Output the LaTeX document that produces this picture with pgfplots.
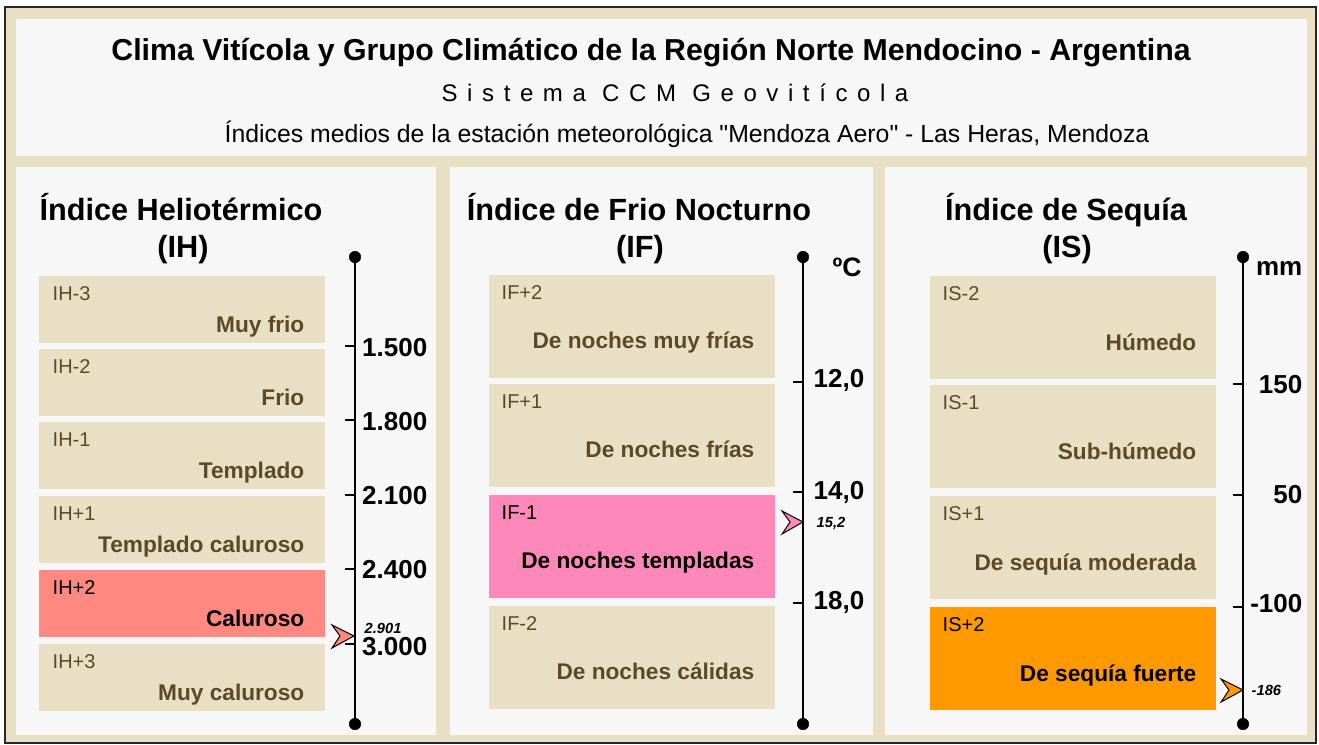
\documentclass[border=0pt]{standalone}
\usepackage{pgfplots}
\pgfplotsset{compat=1.18}
\usepackage{fontspec}
\setmainfont{Liberation Sans}
\newfontfamily\spaced[LetterSpace=40]{Liberation Sans}
\newfontfamily\rawfont[Ligatures=ResetAll]{Liberation Sans}

\definecolor{beige}{HTML}{E8DFC5}
\definecolor{panel}{HTML}{F7F7F7}
\definecolor{oliva}{HTML}{5A4A2A}
\definecolor{salmon}{HTML}{FF8880}
\definecolor{rosa}{HTML}{FF88BB}
\definecolor{naranja}{HTML}{FF9900}

\newcommand\fs[1]{\fontsize{#1pt}{#1pt}\selectfont}
% rectangle: x1 y1 x2 y2 colour (pixel coordinates, y down)
\newcommand\rect[5]{\addplot[fill=#5, draw=none] coordinates {(#1,#2) (#3,#2) (#3,#4) (#1,#4)};}
\newcommand\tick[2]{\addplot[black, line width=1.2pt] coordinates {(#1-10,#2) (#1,#2)};}

\begin{document}
\begin{tikzpicture}
\begin{axis}[x=0.75pt, y=0.75pt, y dir=reverse,
    xmin=0, xmax=1319, ymin=0, ymax=744,
    hide axis, clip=false]

% frame and panels
\rect{0}{0}{1319}{744}{white}
\addplot[fill=beige, draw=black!85, line width=1.2pt] coordinates {(5,7) (1316,7) (1316,743) (5,743)} -- cycle;
\rect{16}{19}{1307}{156}{panel}
\rect{16}{167}{436}{735}{panel}
\rect{450}{167}{873}{735}{panel}
\rect{885}{167}{1307}{735}{panel}

% headings
\node[anchor=base, font=\bfseries\fs{22.7}] at (651,60) {Clima Vitícola y Grupo Climático de la Región Norte Mendocino - Argentina};
\node[anchor=base, font=\spaced\fs{18}] at (675,101) {Sistema CCM Geovitícola};
\node[anchor=base, font=\rawfont\fs{18.6}] at (687,142) {Índices medios de la estación meteorológica "Mendoza Aero" - Las Heras, Mendoza};

% ---------- IH ----------
\node[anchor=base, font=\bfseries\fs{23}] at (181,220) {Índice Heliotérmico};
\node[anchor=base, font=\bfseries\fs{23}] at (183,257) {(IH)};
\rect{39}{276}{325}{343}{beige}
\rect{39}{349}{325}{416}{beige}
\rect{39}{422}{325}{489}{beige}
\rect{39}{496}{325}{563}{beige}
\rect{39}{570}{325}{637}{salmon}
\rect{39}{644}{325}{711}{beige}
\node[anchor=base west, text=oliva, font=\fs{15}] at (48,300) {IH-3};
\node[anchor=base west, text=oliva, font=\fs{15}] at (48,373) {IH-2};
\node[anchor=base west, text=oliva, font=\fs{15}] at (48,446) {IH-1};
\node[anchor=base west, text=oliva, font=\fs{15}] at (48,520) {IH+1};
\node[anchor=base west, text=black, font=\fs{15}] at (48,594) {IH+2};
\node[anchor=base west, text=oliva, font=\fs{15}] at (48,668) {IH+3};
\node[anchor=base east, text=oliva, font=\bfseries\fs{17}] at (309,332) {Muy frio};
\node[anchor=base east, text=oliva, font=\bfseries\fs{17}] at (309,405) {Frio};
\node[anchor=base east, text=oliva, font=\bfseries\fs{17}] at (309,478) {Templado};
\node[anchor=base east, text=oliva, font=\bfseries\fs{17}] at (309,552) {Templado caluroso};
\node[anchor=base east, text=black, font=\bfseries\fs{17}] at (309,626) {Caluroso};
\node[anchor=base east, text=oliva, font=\bfseries\fs{17}] at (309,700) {Muy caluroso};

\addplot[black, line width=1.5pt] coordinates {(355,257) (355,724)};
\addplot[only marks, mark=*, mark size=4.3pt, black] coordinates {(355,257) (355,724)};
\tick{355}{346}
\tick{355}{420}
\tick{355}{495}
\tick{355}{569}
\tick{355}{644}
\node[anchor=base east, font=\bfseries\fs{19.5}] at (432,356) {1.500};
\node[anchor=base east, font=\bfseries\fs{19.5}] at (432,430) {1.800};
\node[anchor=base east, font=\bfseries\fs{19.5}] at (432,504) {2.100};
\node[anchor=base east, font=\bfseries\fs{19.5}] at (432,578) {2.400};
\node[anchor=base east, font=\bfseries\fs{19.5}] at (432,655) {3.000};
\addplot[fill=salmon, draw=black, line width=0.75pt] coordinates {(332,625) (354,636) (332,648) (340,636)} -- cycle;
\node[anchor=base west, font=\bfseries\itshape\fs{11}] at (360,633) {2.901};

% ---------- IF ----------
\node[anchor=base, font=\bfseries\fs{23}] at (639,220) {Índice de Frio Nocturno};
\node[anchor=base, font=\bfseries\fs{23}] at (640,257) {(IF)};
\rect{489}{275}{775}{378}{beige}
\rect{489}{384}{775}{487}{beige}
\rect{489}{495}{775}{598}{rosa}
\rect{489}{606}{775}{709}{beige}
\node[anchor=base west, text=oliva, font=\fs{15}] at (497,299) {IF+2};
\node[anchor=base west, text=oliva, font=\fs{15}] at (497,408) {IF+1};
\node[anchor=base west, text=black, font=\fs{15}] at (497,519) {IF-1};
\node[anchor=base west, text=oliva, font=\fs{15}] at (497,630) {IF-2};
\node[anchor=base east, text=oliva, font=\bfseries\fs{17}] at (759,348) {De noches muy frías};
\node[anchor=base east, text=oliva, font=\bfseries\fs{17}] at (759,457) {De noches frías};
\node[anchor=base east, text=black, font=\bfseries\fs{17}] at (759,568) {De noches templadas};
\node[anchor=base east, text=oliva, font=\bfseries\fs{17}] at (759,679) {De noches cálidas};

\addplot[black, line width=1.5pt] coordinates {(803,257) (803,724)};
\addplot[only marks, mark=*, mark size=4.3pt, black] coordinates {(803,257) (803,724)};
\tick{803}{382}
\tick{803}{492}
\tick{803}{603}
\node[anchor=base west, font=\bfseries\fs{20}] at (828,276) {ºC};
\node[anchor=base east, font=\bfseries\fs{19.5}] at (869,387) {12,0};
\node[anchor=base east, font=\bfseries\fs{19.5}] at (869,499) {14,0};
\node[anchor=base east, font=\bfseries\fs{19.5}] at (869,609) {18,0};
\addplot[fill=rosa, draw=black, line width=0.75pt] coordinates {(782,511) (803,522) (782,534) (790,522)} -- cycle;
\node[anchor=base west, font=\bfseries\itshape\fs{11}] at (812,527) {15,2};

% ---------- IS ----------
\node[anchor=base, font=\bfseries\fs{23}] at (1066,220) {Índice de Sequía};
\node[anchor=base, font=\bfseries\fs{23}] at (1067,257) {(IS)};
\rect{930}{276}{1216}{379}{beige}
\rect{930}{385}{1216}{488}{beige}
\rect{930}{496}{1216}{599}{beige}
\rect{930}{607}{1216}{710}{naranja}
\node[anchor=base west, text=oliva, font=\fs{15}] at (938,300) {IS-2};
\node[anchor=base west, text=oliva, font=\fs{15}] at (938,409) {IS-1};
\node[anchor=base west, text=oliva, font=\fs{15}] at (938,520) {IS+1};
\node[anchor=base west, text=black, font=\fs{15}] at (938,631) {IS+2};
\node[anchor=base east, text=oliva, font=\bfseries\fs{17}] at (1201,350) {Húmedo};
\node[anchor=base east, text=oliva, font=\bfseries\fs{17}] at (1201,459) {Sub-húmedo};
\node[anchor=base east, text=oliva, font=\bfseries\fs{17}] at (1201,570) {De sequía moderada};
\node[anchor=base east, text=black, font=\bfseries\fs{17}] at (1201,681) {De sequía fuerte};

\addplot[black, line width=1.5pt] coordinates {(1243,257) (1243,724)};
\addplot[only marks, mark=*, mark size=4.3pt, black] coordinates {(1243,257) (1243,724)};
\tick{1243}{384}
\tick{1243}{495}
\tick{1243}{607}
\node[anchor=base east, font=\bfseries\fs{19.5}] at (1307,275) {mm};
\node[anchor=base east, font=\bfseries\fs{19.5}] at (1307,393) {150};
\node[anchor=base east, font=\bfseries\fs{19.5}] at (1307,503) {50};
\node[anchor=base east, font=\bfseries\fs{19.5}] at (1307,612) {-100};
\addplot[fill=naranja, draw=black, line width=0.75pt] coordinates {(1221,679) (1243,690) (1221,702) (1229,690)} -- cycle;
\node[anchor=base west, font=\bfseries\itshape\fs{11}] at (1247,695) {-186};

\end{axis}
\end{tikzpicture}
\end{document}
